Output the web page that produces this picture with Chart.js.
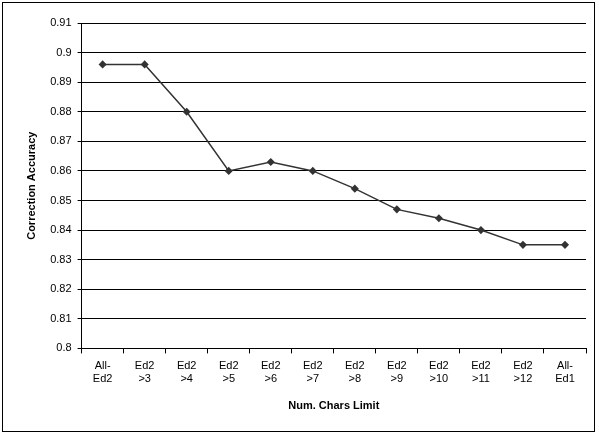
<!DOCTYPE html>
<html><head><meta charset="utf-8">
<script src="https://cdn.jsdelivr.net/npm/chart.js@4/dist/chart.umd.min.js"></script>
<style>html,body{margin:0;padding:0;background:#fff}
#w{position:absolute;left:2px;top:2px;width:593px;height:430px;border:1px solid #000;box-sizing:border-box}
</style></head><body>
<div id="w"><canvas id="c"></canvas></div>
<script>
const categories=[["All-","Ed2"],["Ed2",">3"],["Ed2",">4"],["Ed2",">5"],["Ed2",">6"],["Ed2",">7"],["Ed2",">8"],["Ed2",">9"],["Ed2",">10"],["Ed2",">11"],["Ed2",">12"],["All-","Ed1"]];
const accuracy=[0.896,0.896,0.880,0.860,0.863,0.860,0.854,0.847,0.844,0.840,0.835,0.835];
const yMin=0.8,yMax=0.91,yStep=0.01;
new Chart(document.getElementById('c'),{type:'line',
data:{labels:categories,datasets:[{data:accuracy,borderColor:'#333',backgroundColor:'#333',borderWidth:1.5,pointStyle:'rectRot',pointRadius:3,tension:0}]},
options:{responsive:true,maintainAspectRatio:false,animation:false,
layout:{padding:{left:18,right:8,top:20,bottom:14}},
plugins:{legend:{display:false},tooltip:{enabled:false}},
scales:{
x:{offset:true,grid:{display:true,drawOnChartArea:false,color:'#000',offset:true,tickLength:5},border:{color:'#000'},
ticks:{color:'#000',font:{family:'Liberation Sans',size:11},maxRotation:0,autoSkip:false,padding:6},
title:{display:true,text:'Num. Chars Limit',color:'#000',padding:{top:8},font:{family:'Liberation Sans',size:11,weight:'bold'}}},
y:{min:yMin,max:yMax,grid:{color:'#000',tickLength:4},border:{color:'#000'},
ticks:{stepSize:yStep,color:'#000',font:{family:'Liberation Sans',size:11},padding:6,callback:v=>+v.toFixed(2)},
title:{display:true,text:'Correction Accuracy',color:'#000',padding:{bottom:6},font:{family:'Liberation Sans',size:11,weight:'bold'}}}}}});
</script></body></html>
